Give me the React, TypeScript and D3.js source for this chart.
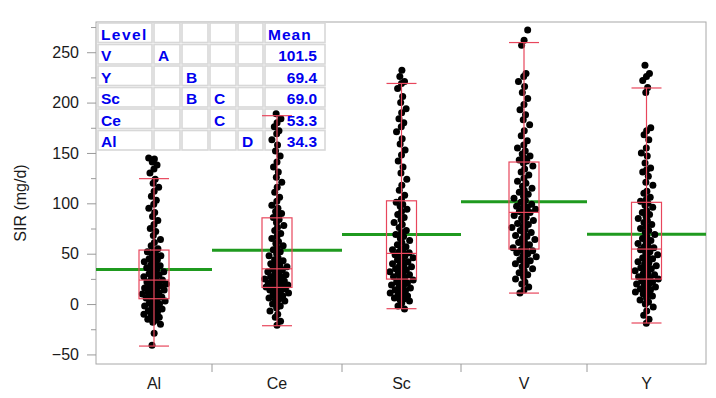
import { useEffect, useRef } from 'react';
import * as d3 from 'd3';

// Levels and their relative widths on the x axis (JMP scales width by group size)
const levels = ['Al', 'Ce', 'Sc', 'V', 'Y'];
const groupWeight = [116, 130, 119, 126, 119];

// Box plot stats
const groupMeans = [34.3, 53.3, 69.0, 101.5, 69.4];
const whiskerLow = [-41.7, -21.5, -4.6, 10.9, -18.8];
const quart1 = [5.3, 16.5, 24.8, 54.6, 24.8];
const medians = [23.8, 35.0, 50.3, 91.0, 54.6];
const quart3 = [53.6, 85.6, 102.5, 141.0, 101.0];
const whiskerHigh = [124.5, 187.0, 219.0, 259.6, 214.5];

// Observations (estimated from the dots)
const alValues = [
  145, 144, 141, 138, 134, 130, 124, 120, 116, 112, 107, 103, 99, 95, 91, 87, 83, 79, 75, 72, 68, 64, 61, 58, 55,
  53, 52, 50, 49, 48, 46, 45, 44, 43, 42, 40, 39, 38, 37, 36, 34, 33, 32, 31, 30, 29, 28, 27, 26, 25,
  24, 23, 22, 22, 21, 20, 19, 18, 18, 17, 16, 15, 14, 14, 13, 12, 11, 10, 10, 9, 8, 7, 7, 6, 5,
  4, 3, 2, 1, 0, -1, -2, -3, -4, -5, -6, -7, -8, -9, -10, -11, -12, -13, -14, -15, -16, -18, -20, -29, -41,
];
const ceValues = [
  189, 184, 180, 176, 172, 169, 163, 158, 152, 147, 141, 136, 131, 126, 121, 116, 111, 106, 102, 98, 95, 92, 90, 88, 86,
  84, 81, 78, 76, 73, 70, 67, 65, 62, 60, 58, 56, 54, 52, 50, 48, 46, 44, 43, 41, 40, 39, 38, 37, 36,
  35, 34, 33, 32, 31, 30, 29, 28, 27, 27, 26, 25, 24, 23, 23, 22, 21, 20, 20, 19, 19, 18, 18, 17, 17,
  16, 16, 15, 14, 14, 13, 12, 11, 10, 9, 8, 7, 6, 5, 4, 3, 2, 0, -2, -4, -7, -10, -13, -17, -21,
];
const scValues = [
  232, 226, 221, 219, 214, 206, 200, 194, 190, 184, 180, 176, 171, 164, 159, 153, 148, 142, 136, 130, 124, 118, 113, 108, 104,
  101, 99, 97, 94, 92, 89, 86, 84, 81, 79, 76, 73, 71, 69, 67, 65, 63, 61, 59, 57, 55, 54, 53, 52, 51,
  50, 49, 48, 47, 46, 45, 44, 42, 41, 40, 39, 38, 37, 36, 35, 34, 33, 32, 31, 30, 29, 28, 27, 26, 25,
  24, 23, 22, 21, 20, 19, 18, 17, 16, 15, 14, 13, 12, 11, 10, 9, 8, 7, 6, 5, 4, 3, 1, -2, -5,
];
const vValues = [
  272, 262, 257, 229, 226, 221, 216, 210, 204, 198, 193, 188, 183, 178, 172, 167, 162, 158, 155, 152, 149, 147, 145, 143, 142,
  140, 137, 134, 131, 128, 125, 122, 120, 117, 115, 113, 111, 109, 107, 105, 103, 101, 99, 98, 97, 96, 95, 94, 93, 92,
  91, 89, 88, 86, 85, 83, 82, 80, 79, 77, 76, 74, 73, 71, 70, 68, 67, 65, 64, 62, 61, 59, 58, 56, 55,
  54, 53, 52, 51, 50, 48, 47, 46, 44, 43, 42, 40, 39, 37, 35, 33, 31, 29, 27, 25, 22, 20, 17, 14, 11,
];
const yValues = [
  237, 229, 226, 222, 215, 210, 175, 172, 168, 163, 155, 150, 147, 140, 135, 133, 131, 127, 121, 118, 112, 110, 106, 104, 102,
  100, 98, 96, 93, 91, 89, 87, 85, 83, 81, 79, 77, 75, 73, 71, 69, 67, 65, 63, 61, 60, 58, 57, 56, 55,
  54, 52, 51, 49, 48, 46, 45, 44, 42, 41, 40, 38, 37, 36, 35, 34, 33, 31, 30, 29, 28, 27, 26, 25, 25,
  24, 23, 22, 21, 20, 19, 18, 17, 16, 15, 14, 13, 12, 11, 10, 8, 6, 4, 2, 0, -3, -7, -11, -15, -19,
];
const groupValues = [alValues, ceValues, scValues, vValues, yValues];

// Connecting letters report
const reportLevels = ['V', 'Y', 'Sc', 'Ce', 'Al'];
const reportLetters = [
  ['A', '', '', ''],
  ['', 'B', '', ''],
  ['', 'B', 'C', ''],
  ['', '', 'C', ''],
  ['', '', '', 'D'],
];
const reportMeans = ['101.5', '69.4', '69.0', '53.3', '34.3'];

const majorTicks = [-50, 0, 50, 100, 150, 200, 250];
const minorTicks = [-25, 25, 75, 125, 175, 225, 275];

const FONT = "'Liberation Sans', Arial, Helvetica, sans-serif";

export default function App() {
  const svgRef = useRef<SVGSVGElement>(null);
  const width = 716;
  const height = 398;
  const plot = { left: 96, right: 706, top: 22, bottom: 364 };

  useEffect(() => {
    if (!svgRef.current) return;
    const svg = d3.select(svgRef.current);
    svg.selectAll('*').remove();

    const y = d3.scaleLinear().domain([-59.5, 280]).range([plot.bottom, plot.top]);
    const total = d3.sum(groupWeight);
    const x = d3.scaleLinear().domain([0, total]).range([plot.left, plot.right]);
    const ends = Array.from(d3.cumsum(groupWeight));
    const starts = [0, ...ends.slice(0, -1)];
    const centers = starts.map((s, i) => x(s + groupWeight[i] / 2));

    // frame
    svg.append('rect')
      .attr('x', plot.left)
      .attr('y', plot.top)
      .attr('width', plot.right - plot.left)
      .attr('height', plot.bottom - plot.top)
      .attr('fill', '#fff')
      .attr('stroke', '#a8a8a8')
      .attr('stroke-width', 1);

    // y axis, major + minor ticks
    const yMajor = svg.append('g')
      .attr('transform', `translate(${plot.left},0)`)
      .call(d3.axisLeft(y).tickValues(majorTicks).tickSize(9).tickPadding(8).tickFormat(d3.format('d')));
    const yMinor = svg.append('g')
      .attr('transform', `translate(${plot.left},0)`)
      .call(d3.axisLeft(y).tickValues(minorTicks).tickSize(5).tickFormat(() => ''));
    [yMajor, yMinor].forEach((g) => {
      g.select('.domain').remove();
      g.selectAll('line').attr('stroke', '#9a9a9a');
      g.selectAll('text').attr('font-family', FONT).attr('font-size', 16).attr('fill', '#1a1a1a');
    });

    svg.append('text')
      .attr('transform', `translate(26,${(y(280) + y(-59.5)) / 2 + 10}) rotate(-90)`)
      .attr('text-anchor', 'middle')
      .attr('font-family', FONT)
      .attr('font-size', 16)
      .attr('fill', '#1a1a1a')
      .text('SIR (mg/d)');

    // x axis: group separators + labels
    svg.selectAll('line.sep')
      .data(ends.slice(0, -1))
      .join('line')
      .attr('class', 'sep')
      .attr('x1', (d) => x(d))
      .attr('x2', (d) => x(d))
      .attr('y1', plot.bottom)
      .attr('y2', plot.bottom + 8)
      .attr('stroke', '#9a9a9a');
    svg.selectAll('text.lvl')
      .data(levels)
      .join('text')
      .attr('class', 'lvl')
      .attr('x', (_, i) => centers[i])
      .attr('y', plot.bottom + 25)
      .attr('text-anchor', 'middle')
      .attr('font-family', FONT)
      .attr('font-size', 16)
      .attr('fill', '#1a1a1a')
      .text((d) => d);

    // report table cells (behind the dots)
    const colEdges = [97, 153, 181, 209, 237, 264, 326];
    const rowTop = 22;
    const rowH = 21.5;
    const table = svg.append('g');
    for (let r = 0; r <= reportLevels.length; r++) {
      for (let c = 0; c < colEdges.length - 1; c++) {
        table.append('rect')
          .attr('x', colEdges[c] + 1)
          .attr('y', rowTop + r * rowH + 1)
          .attr('width', colEdges[c + 1] - colEdges[c] - 2)
          .attr('height', rowH - 2)
          .attr('fill', '#fff')
          .attr('stroke', '#d8d8d8')
          .attr('stroke-width', 1.6);
      }
    }

    // mean lines
    svg.selectAll('line.mean')
      .data(groupMeans)
      .join('line')
      .attr('class', 'mean')
      .attr('x1', (_, i) => x(starts[i]))
      .attr('x2', (_, i) => x(ends[i]))
      .attr('y1', (d) => y(d))
      .attr('y2', (d) => y(d))
      .attr('stroke', '#1f9a1f')
      .attr('stroke-width', 3);

    // jittered dots: most sit near the centre line, spread a bit more where dense
    groupValues.forEach((vals, g) => {
      const density = (v: number) => d3.sum(vals, (w) => Math.exp(-((v - w) ** 2) / (2 * 12 * 12)));
      const dens = vals.map(density);
      const maxD = d3.max(dens) ?? 1;
      svg.append('g')
        .selectAll('circle')
        .data(vals)
        .join('circle')
        .attr('cx', (_, i) => {
          const u = 2 * (((i * 0.618034 + g * 0.31) % 1) - 0.5);
          const half = 13 * (0.3 + 0.7 * dens[i] / maxD);
          return centers[g] + Math.sign(u) * Math.abs(u) ** 1.8 * half;
        })
        .attr('cy', (d) => y(d))
        .attr('r', 3.5)
        .attr('fill', '#000');
    });

    // box plots
    const boxW = 30;
    const red = '#e8465c';
    levels.forEach((_, i) => {
      const cx = centers[i];
      const bg = svg.append('g').attr('fill', 'none').attr('stroke', red).attr('stroke-width', 1.2);
      bg.append('line').attr('x1', cx).attr('x2', cx).attr('y1', y(whiskerLow[i])).attr('y2', y(whiskerHigh[i]));
      bg.append('rect')
        .attr('x', cx - boxW / 2)
        .attr('y', y(quart3[i]))
        .attr('width', boxW)
        .attr('height', y(quart1[i]) - y(quart3[i]));
      bg.append('line').attr('x1', cx - boxW / 2).attr('x2', cx + boxW / 2).attr('y1', y(medians[i])).attr('y2', y(medians[i]));
      [whiskerLow[i], whiskerHigh[i]].forEach((v) => {
        bg.append('line').attr('x1', cx - boxW / 2).attr('x2', cx + boxW / 2).attr('y1', y(v)).attr('y2', y(v));
      });
    });

    // report text
    const txt = svg.append('g')
      .attr('font-family', FONT)
      .attr('font-size', 15.5)
      .attr('font-weight', 'bold')
      .attr('fill', '#0000ee');
    const base = (r: number) => rowTop + r * rowH + 17.5;
    txt.append('text').attr('x', colEdges[0] + 4).attr('y', base(0)).attr('letter-spacing', 1.4).text('Level');
    txt.append('text').attr('x', colEdges[5] + 4).attr('y', base(0)).attr('letter-spacing', 1).text('Mean');
    reportLevels.forEach((lv, r) => {
      txt.append('text').attr('x', colEdges[0] + 4).attr('y', base(r + 1)).text(lv);
      reportLetters[r].forEach((l, c) => {
        if (l) txt.append('text').attr('x', colEdges[c + 1] + 5).attr('y', base(r + 1)).text(l);
      });
      txt.append('text')
        .attr('x', colEdges[6] - 9)
        .attr('y', base(r + 1))
        .attr('text-anchor', 'end')
        .text(reportMeans[r]);
    });
  }, []);

  return (
    <svg
      ref={svgRef}
      width={width}
      height={height}
      style={{ position: 'absolute', left: 0, top: 0, background: '#fff' }}
    />
  );
}
